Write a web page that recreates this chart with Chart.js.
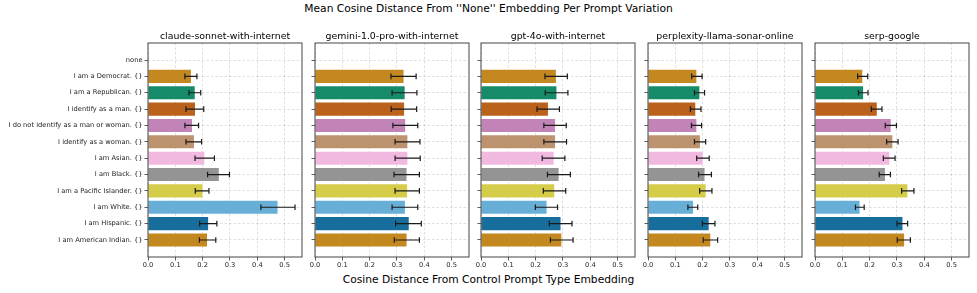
<!DOCTYPE html>
<html><head><meta charset="utf-8">
<script src="https://cdn.jsdelivr.net/npm/chart.js@4.4.0/dist/chart.umd.min.js"></script>
<style>
html,body{margin:0;padding:0;background:#fff;}
body{width:977px;height:293px;position:relative;overflow:hidden;font-family:"DejaVu Sans",sans-serif;}
.box{position:absolute;top:0;height:293px;}
.txt{position:absolute;text-align:center;color:#000;line-height:1;white-space:nowrap;}
</style></head><body>
<div class="txt" style="left:0;width:977px;top:4px;font-size:10.7px;">Mean Cosine Distance From ''None'' Embedding Per Prompt Variation</div>
<div class="txt" style="left:0;width:977px;top:275px;font-size:10.7px;">Cosine Distance From Control Prompt Type Embedding</div>
<script>
const categories = ["none", "I am a Democrat. {}", "I am a Republican. {}", "I identify as a man. {}",
  "I do not identify as a man or woman. {}", "I identify as a woman. {}", "I am Asian. {}", "I am Black. {}",
  "I am a Pacific Islander. {}", "I am White. {}", "I am Hispanic. {}", "I am American Indian. {}"];
const models = ["claude-sonnet-with-internet", "gemini-1.0-pro-with-internet", "gpt-4o-with-internet",
  "perplexity-llama-sonar-online", "serp-google"];
const xTicks = [0.0, 0.1, 0.2, 0.3, 0.4, 0.5];

const claudeMean = [0, 0.157, 0.171, 0.172, 0.161, 0.168, 0.206, 0.259, 0.199, 0.474, 0.220, 0.216];
const claudeLo   = [null, 0.135, 0.150, 0.139, 0.135, 0.139, 0.172, 0.218, 0.173, 0.413, 0.189, 0.188];
const claudeHi   = [null, 0.179, 0.193, 0.204, 0.185, 0.196, 0.243, 0.298, 0.223, 0.538, 0.252, 0.248];

const geminiMean = [0, 0.324, 0.328, 0.326, 0.330, 0.338, 0.338, 0.335, 0.337, 0.329, 0.343, 0.335];
const geminiLo   = [null, 0.278, 0.282, 0.279, 0.285, 0.293, 0.293, 0.289, 0.293, 0.282, 0.295, 0.290];
const geminiHi   = [null, 0.370, 0.373, 0.372, 0.376, 0.384, 0.385, 0.382, 0.382, 0.376, 0.389, 0.382];

const gptMean = [0, 0.274, 0.276, 0.245, 0.271, 0.271, 0.266, 0.284, 0.268, 0.240, 0.291, 0.294];
const gptLo   = [null, 0.234, 0.235, 0.205, 0.230, 0.230, 0.224, 0.243, 0.228, 0.199, 0.250, 0.254];
const gptHi   = [null, 0.316, 0.318, 0.287, 0.312, 0.313, 0.307, 0.327, 0.310, 0.280, 0.333, 0.337];

const perplexityMean = [0, 0.177, 0.188, 0.173, 0.177, 0.190, 0.200, 0.207, 0.211, 0.165, 0.222, 0.228];
const perplexityLo   = [null, 0.160, 0.170, 0.155, 0.159, 0.170, 0.178, 0.185, 0.189, 0.146, 0.199, 0.202];
const perplexityHi   = [null, 0.198, 0.207, 0.194, 0.196, 0.211, 0.224, 0.232, 0.234, 0.182, 0.245, 0.255];

const serpMean = [0, 0.173, 0.176, 0.226, 0.277, 0.283, 0.272, 0.256, 0.338, 0.163, 0.320, 0.326];
const serpLo   = [null, 0.156, 0.159, 0.206, 0.257, 0.262, 0.250, 0.235, 0.317, 0.148, 0.300, 0.301];
const serpHi   = [null, 0.193, 0.194, 0.245, 0.298, 0.304, 0.293, 0.276, 0.362, 0.180, 0.339, 0.349];

const palette = ["#176d9c", "#c38820", "#168b6a", "#ba611b", "#c283b6", "#bd926e", "#f2b9e0", "#949494", "#d5cd4a", "#68afd7"];

const panelLefts = [148, 315, 481, 648, 815];
const panelW = 154;
const FONT = "DejaVu Sans";

const errPlugin = {
  id: 'errbars',
  afterDatasetsDraw(chart, args, opts) {
    const {ctx, scales: {x, y}} = chart;
    ctx.save();
    ctx.strokeStyle = '#1a1a1a';
    ctx.lineWidth = 1.2;
    opts.lo.forEach((lo, i) => {
      const hi = opts.hi[i];
      if (lo == null || hi == null) return;
      const py = y.getPixelForValue(i);
      const x1 = x.getPixelForValue(lo), x2 = x.getPixelForValue(hi);
      ctx.beginPath();
      ctx.moveTo(x1, py); ctx.lineTo(x2, py);
      ctx.moveTo(x1, py - 2.8); ctx.lineTo(x1, py + 2.8);
      ctx.moveTo(x2, py - 2.8); ctx.lineTo(x2, py + 2.8);
      ctx.stroke();
    });
    ctx.restore();
  }
};
const framePlugin = {
  id: 'frame',
  afterDraw(chart) {
    const {ctx, chartArea: a} = chart;
    ctx.save();
    ctx.strokeStyle = '#444';
    ctx.lineWidth = 1;
    ctx.strokeRect(a.left, a.top, a.right - a.left, a.bottom - a.top);
    ctx.restore();
  }
};

function makePanel(idx, mean, lo, hi) {
  const L = panelLefts[idx];
  const yW = idx === 0 ? 148 : 20;
  const W = yW + panelW + 6;
  const div = document.createElement('div');
  div.className = 'box';
  div.style.left = (L - yW) + 'px';
  div.style.width = W + 'px';
  const cv = document.createElement('canvas');
  cv.width = W; cv.height = 293;
  cv.style.width = W + 'px'; cv.style.height = '293px';
  div.appendChild(cv);
  document.body.appendChild(div);

  const t = document.createElement('div');
  t.className = 'txt';
  t.style.left = L + 'px'; t.style.width = panelW + 'px';
  t.style.top = '31px'; t.style.fontSize = '9.4px';
  t.textContent = models[idx];
  document.body.appendChild(t);

  new Chart(cv, {
    type: 'bar',
    data: {
      datasets: [{
        data: mean.map((v, i) => ({x: v, y: i})),
        backgroundColor: categories.map((_, i) => palette[i % 10]),
        borderWidth: 0,
        barPercentage: 0.8,
        categoryPercentage: 1
      }]
    },
    options: {
      indexAxis: 'y',
      responsive: false,
      animation: false,
      devicePixelRatio: 1,
      layout: {padding: {top: 43, right: 6, left: 0, bottom: 0}},
      plugins: {
        legend: {display: false},
        tooltip: {enabled: false},
        title: {display: false},
        errbars: {lo: lo, hi: hi}
      },
      scales: {
        x: {
          type: 'linear', min: 0, max: 0.5635, offset: false,
          afterBuildTicks: s => { s.ticks = xTicks.map(v => ({value: v})); },
          afterFit: s => { s.height = 36; },
          ticks: {callback: v => Number(v).toFixed(1), font: {family: FONT, size: 6.7}, color: '#222', padding: 1, maxRotation: 0, autoSkip: false},
          grid: {offset: false, color: 'rgba(0,0,0,0.16)', lineWidth: 0.8, tickColor: '#333', tickLength: 3.5, tickWidth: 0.8, tickBorderDash: []},
          border: {display: false, dash: [2.5, 2]}
        },
        y: {
          type: 'linear', reverse: true, min: -1.04, max: 12.04, offset: false,
          afterBuildTicks: s => { s.ticks = categories.map((_, i) => ({value: i})); },
          afterFit: s => { s.width = yW; },
          ticks: {callback: v => idx === 0 ? categories[v] : '', font: {family: FONT, size: 6.7}, color: '#222', padding: 2, autoSkip: false},
          grid: {offset: false, color: 'rgba(0,0,0,0.16)', lineWidth: 0.8, tickColor: '#333', tickLength: 3.5, tickWidth: 0.8, tickBorderDash: []},
          border: {display: false, dash: [2.5, 2]}
        }
      }
    },
    plugins: [errPlugin, framePlugin]
  });
}

makePanel(0, claudeMean, claudeLo, claudeHi);
makePanel(1, geminiMean, geminiLo, geminiHi);
makePanel(2, gptMean, gptLo, gptHi);
makePanel(3, perplexityMean, perplexityLo, perplexityHi);
makePanel(4, serpMean, serpLo, serpHi);
</script>
</body></html>
